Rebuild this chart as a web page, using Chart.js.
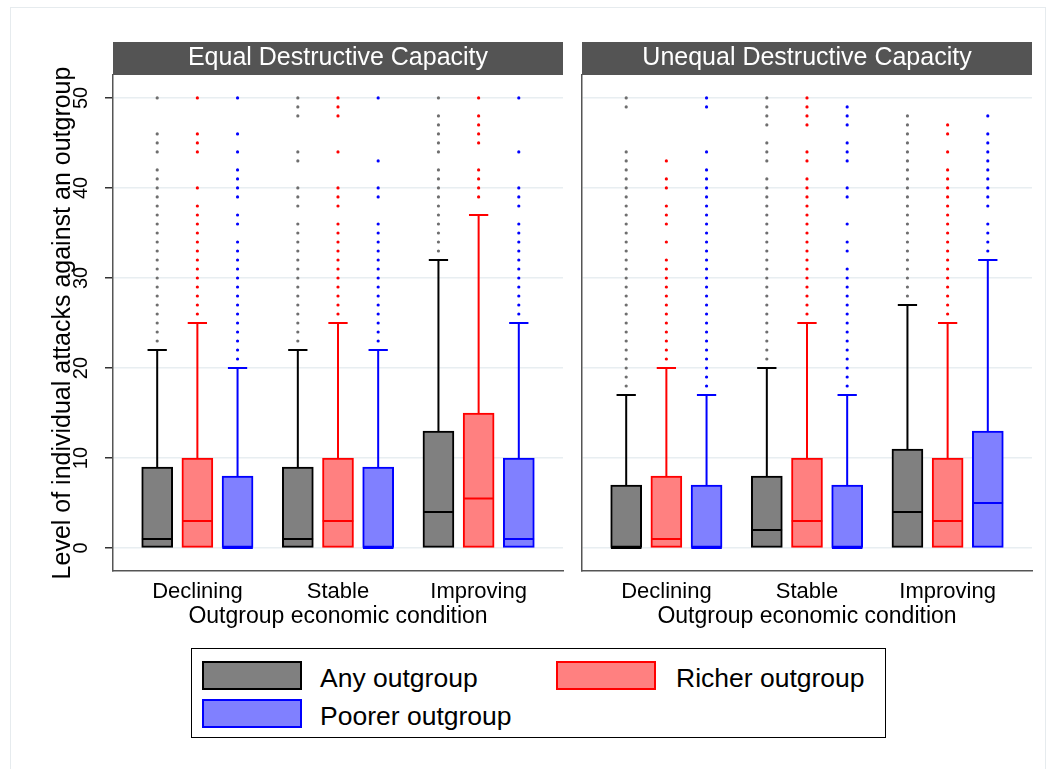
<!DOCTYPE html>
<html>
<head>
<meta charset="utf-8">
<script src="https://cdn.jsdelivr.net/npm/chart.js@4.4.1/dist/chart.umd.min.js"></script>
<style>
  body { margin: 0; background: #fff; font-family: 'Liberation Sans', Arial, sans-serif; }
  #fig { position: relative; width: 1055px; height: 769px; overflow: hidden; }
  #frame { position: absolute; left: 10px; top: 7px; width: 1034px; height: 800px; border: 1px solid #e6ebee; }
  canvas { position: absolute; }
  #left { left: 0; top: 40px; }
  #right { left: 572px; top: 40px; }
  #legend { position: absolute; left: 191px; top: 648px; width: 693px; height: 88px; border: 1px solid #000; background: #fff; }
  .sw { position: absolute; width: 96px; height: 25px; border: 2px solid; }
  .lab { position: absolute; font-size: 26.5px; line-height: 29px; color: #000; white-space: nowrap; }
</style>
</head>
<body>
<div id="fig">
  <div id="frame"></div>
  <canvas id="left" width="572" height="600"></canvas>
  <canvas id="right" width="472" height="600"></canvas>
  <div id="legend">
    <div class="sw" style="left:10px;top:12px;background:#808080;border-color:#000"></div>
    <div class="lab" style="left:128px;top:15px">Any outgroup</div>
    <div class="sw" style="left:364px;top:12px;background:#ff8080;border-color:#ff0000"></div>
    <div class="lab" style="left:484px;top:15px">Richer outgroup</div>
    <div class="sw" style="left:10px;top:50px;background:#8080ff;border-color:#0000ff"></div>
    <div class="lab" style="left:128px;top:53px">Poorer outgroup</div>
  </div>
</div>
<script>
const conditions = ['Declining', 'Stable', 'Improving'];
const groupNames = ['Any outgroup', 'Richer outgroup', 'Poorer outgroup'];
const yTicks = [0, 10, 20, 30, 40, 50];

// rows: Any, Richer, Poorer outgroup; columns: Declining, Stable, Improving
const equalQ1 = [[0, 0, 0], [0, 0, 0], [0, 0, 0]];
const equalMedian = [[1, 1, 4], [3, 3, 5.5], [0, 0, 1]];
const equalQ3 = [[9, 9, 13], [10, 10, 15], [8, 9, 10]];
const equalUpper = [[22, 22, 32], [25, 25, 37], [20, 22, 25]];
const equalOutliers = [
  [
    [23, 24, 25, 26, 27, 28, 29, 30, 31, 32, 33, 34, 35, 36, 37, 38, 39, 40, 41, 42, 44, 45, 46, 50],
    [23, 24, 25, 26, 27, 28, 29, 30, 31, 32, 33, 34, 35, 36, 38, 39, 40, 43, 44, 48, 49, 50],
    [33, 34, 35, 36, 37, 38, 39, 40, 41, 42, 44, 45, 46, 47, 48, 50]
  ],
  [
    [26, 27, 28, 29, 30, 31, 32, 33, 34, 35, 36, 37, 38, 40, 44, 45, 46, 50],
    [26, 27, 28, 29, 30, 31, 32, 33, 34, 35, 36, 38, 39, 40, 44, 48, 49, 50],
    [39, 40, 41, 42, 45, 46, 47, 48, 50]
  ],
  [
    [21, 22, 23, 24, 25, 26, 27, 28, 29, 30, 31, 32, 33, 34, 36, 37, 39, 40, 41, 42, 44, 46, 50],
    [23, 24, 25, 26, 27, 28, 29, 30, 31, 32, 33, 34, 35, 36, 39, 40, 43, 50],
    [26, 27, 28, 29, 30, 31, 32, 33, 34, 35, 36, 38, 39, 40, 44, 50]
  ]
];

const unequalQ1 = [[0, 0, 0], [0, 0, 0], [0, 0, 0]];
const unequalMedian = [[0, 2, 4], [1, 3, 3], [0, 0, 5]];
const unequalQ3 = [[7, 8, 11], [8, 10, 10], [7, 7, 13]];
const unequalUpper = [[17, 20, 27], [20, 25, 25], [17, 17, 32]];
const unequalOutliers = [
  [
    [18, 19, 20, 21, 22, 23, 24, 25, 26, 27, 28, 29, 30, 31, 32, 33, 34, 35, 36, 37, 38, 39, 40, 41, 42, 43, 44, 49, 50],
    [21, 22, 23, 24, 25, 26, 27, 28, 29, 30, 31, 32, 33, 34, 35, 36, 37, 38, 39, 40, 41, 43, 44, 45, 47, 48, 49, 50],
    [28, 29, 30, 31, 32, 33, 34, 35, 36, 37, 38, 39, 40, 41, 42, 43, 44, 45, 46, 47, 48]
  ],
  [
    [21, 22, 23, 24, 25, 26, 27, 28, 29, 30, 31, 32, 34, 36, 37, 38, 40, 41, 43],
    [26, 27, 28, 29, 30, 31, 32, 33, 34, 35, 36, 37, 38, 39, 40, 41, 43, 44, 47, 48, 49, 50],
    [26, 27, 28, 29, 30, 31, 32, 33, 34, 35, 36, 37, 38, 39, 40, 41, 42, 44, 46, 47]
  ],
  [
    [18, 19, 20, 21, 22, 23, 24, 25, 26, 27, 28, 29, 30, 31, 32, 33, 34, 35, 36, 37, 38, 39, 40, 41, 42, 44, 49, 50],
    [18, 19, 20, 21, 22, 23, 24, 25, 26, 27, 28, 29, 30, 31, 33, 34, 36, 39, 40, 43, 44, 45, 47, 48, 49],
    [33, 34, 35, 36, 38, 39, 40, 41, 42, 43, 44, 45, 46, 48]
  ]
];

const fills = ['#808080', '#ff8080', '#8080ff'];
const strokes = ['#000000', '#ff0000', '#0000ff'];
const dotColors = ['#6e6e6e', '#ff0000', '#0000ff'];
const FONT = "'Liberation Sans', Arial, sans-serif";

Chart.defaults.font.family = FONT;
Chart.defaults.color = '#000';

// x position of a box: three boxes per condition, 3.5 units between conditions
const pos = (s, c) => c * 3.5 + s;

const headerPlugin = {
  id: 'panelHeader',
  beforeDraw(chart, args, opts) {
    const { ctx, chartArea } = chart;
    ctx.save();
    ctx.fillStyle = '#545454';
    ctx.fillRect(chartArea.left, 2, chartArea.right - chartArea.left, chartArea.top - 2);
    ctx.fillStyle = '#fff';
    ctx.font = '25px ' + FONT;
    ctx.textAlign = 'center';
    ctx.textBaseline = 'middle';
    ctx.fillText(opts.text, (chartArea.left + chartArea.right) / 2, 18);
    ctx.restore();
  }
};

function makePanel(id, title, q1, med, q3, upper, outliers, showY) {
  const boxData = [], boxFill = [], boxLine = [];
  const datasets = [];
  groupNames.forEach((name, s) => {
    const whisk = [], medLine = [], dots = [];
    conditions.forEach((cond, c) => {
      const x = pos(s, c);
      boxData.push({ x: x, y: [q1[s][c], q3[s][c]] });
      boxFill.push(fills[s]);
      boxLine.push(strokes[s]);
      whisk.push({ x: x, y: q3[s][c] }, { x: x, y: upper[s][c] }, { x: x, y: null },
                 { x: x - 0.24, y: upper[s][c] }, { x: x + 0.24, y: upper[s][c] }, { x: x, y: null });
      medLine.push({ x: x - 0.38, y: med[s][c] }, { x: x + 0.38, y: med[s][c] }, { x: x, y: null });
      outliers[s][c].forEach(v => dots.push({ x: x, y: v }));
    });
    datasets.push({
      type: 'line', label: name + ' whiskers', data: whisk, order: 2,
      borderColor: strokes[s], borderWidth: 2, pointRadius: 0, spanGaps: false
    });
    datasets.push({
      type: 'line', label: name + ' median', data: medLine, order: 0,
      borderColor: strokes[s], borderWidth: 2, pointRadius: 0, spanGaps: false
    });
    datasets.push({
      type: 'line', label: name + ' outside values', data: dots, order: 3, showLine: false,
      pointRadius: 1.6, pointBorderWidth: 0, pointBackgroundColor: dotColors[s]
    });
  });
  datasets.push({
    type: 'bar', label: 'boxes', data: boxData, order: 1,
    backgroundColor: boxFill, borderColor: boxLine, borderWidth: 2,
    borderSkipped: false, barThickness: 31
  });

  return new Chart(document.getElementById(id), {
    type: 'bar',
    data: { datasets },
    plugins: [headerPlugin],
    options: {
      responsive: false,
      animation: false,
      events: [],
      layout: { padding: { top: 35, right: showY ? 9 : 12, left: 0, bottom: 0 } },
      plugins: {
        legend: { display: false },
        tooltip: { enabled: false },
        panelHeader: { text: title }
      },
      scales: {
        x: {
          type: 'linear', min: -1.1, max: 10.1, offset: false,
          afterBuildTicks: sc => { sc.ticks = conditions.map((c, i) => ({ value: i * 3.5 + 1 })); },
          afterFit: sc => { sc.height = 69; },
          grid: { display: false, drawTicks: false },
          border: { display: true, color: '#555', width: 1.5 },
          ticks: {
            autoSkip: false, maxRotation: 0, padding: 8, color: '#000',
            font: { size: 22 },
            callback: (v, i) => conditions[i]
          },
          title: {
            display: true, text: 'Outgroup economic condition', color: '#000',
            font: { size: 23 }, padding: { top: 0, bottom: 10 }
          }
        },
        y: {
          type: 'linear', min: -2.55, max: 52.55,
          afterBuildTicks: sc => { sc.ticks = yTicks.map(v => ({ value: v })); },
          afterFit: sc => { sc.width = showY ? 113 : 10; },
          grid: {
            color: '#e8eef1', lineWidth: 1.5,
            drawTicks: showY, tickLength: 8, tickColor: '#333', tickWidth: 1.5
          },
          border: { display: true, color: '#555', width: 1.5 },
          ticks: {
            display: showY, minRotation: 90, maxRotation: 90, crossAlign: 'center',
            padding: 12, color: '#000', font: { size: 20 }
          },
          title: {
            display: showY, text: 'Level of individual attacks against an outgroup', color: '#000',
            font: { size: 25 }, padding: { top: 48, bottom: 0 }
          }
        }
      }
    }
  });
}

makePanel('left', 'Equal Destructive Capacity', equalQ1, equalMedian, equalQ3, equalUpper, equalOutliers, true);
makePanel('right', 'Unequal Destructive Capacity', unequalQ1, unequalMedian, unequalQ3, unequalUpper, unequalOutliers, false);
</script>
</body>
</html>
